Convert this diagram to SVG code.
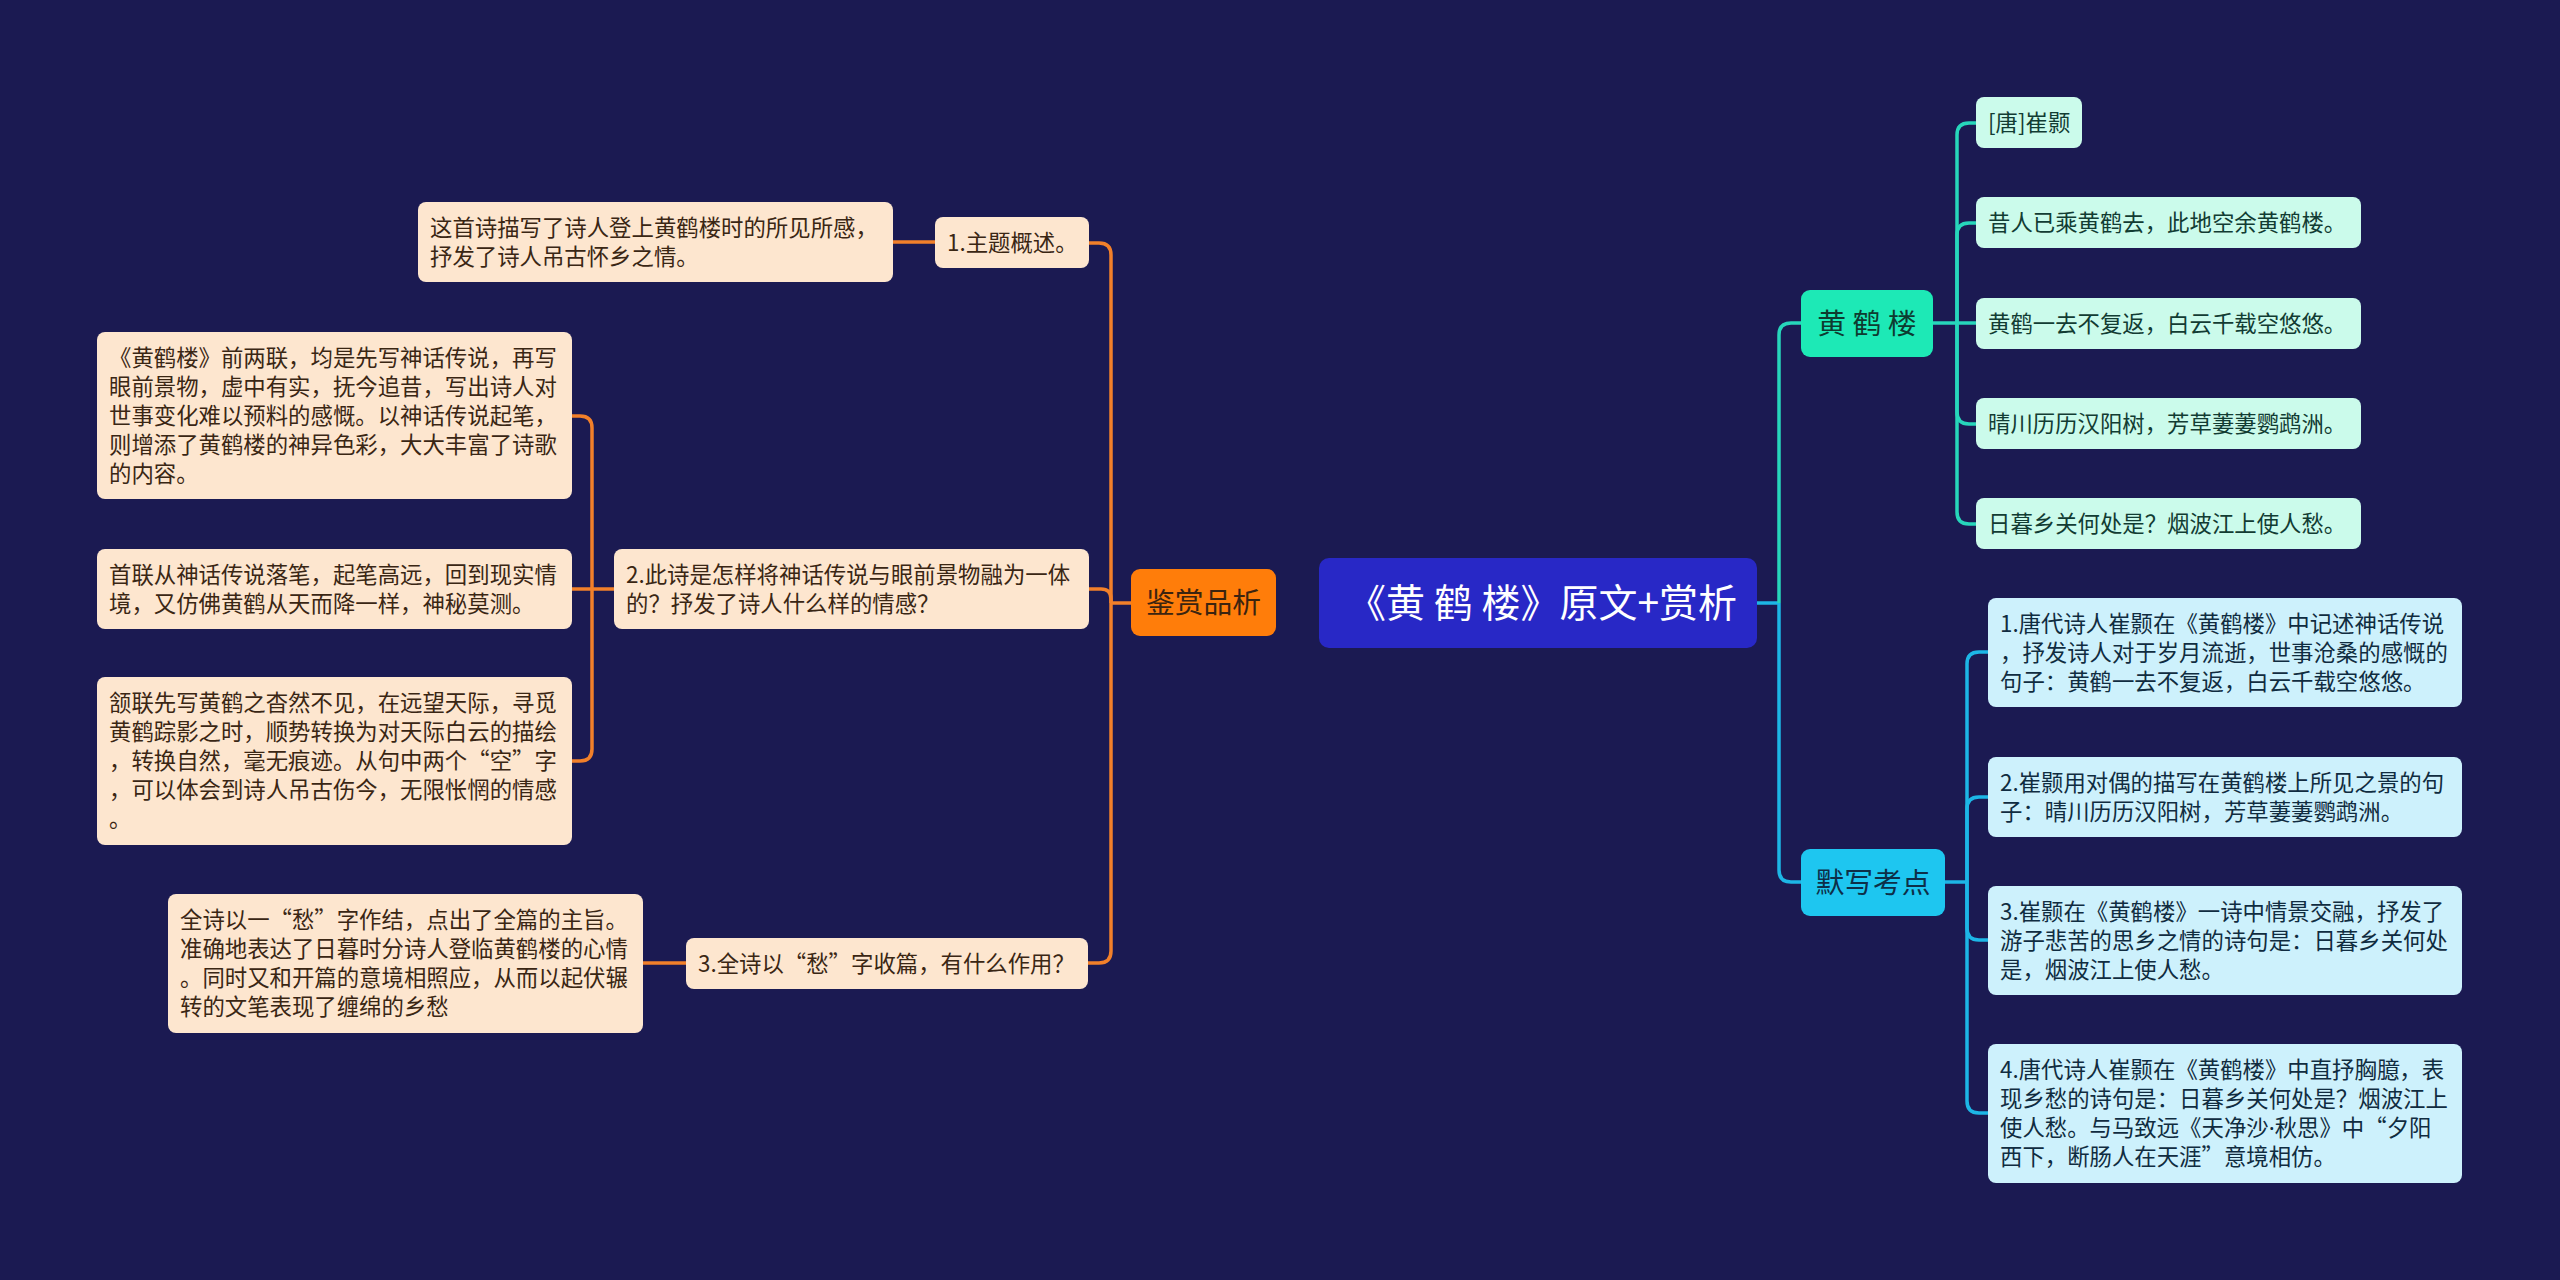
<svg xmlns="http://www.w3.org/2000/svg" width="2560" height="1280" viewBox="0 0 2560 1280">
<style>
text{font-family:"Noto Sans CJK SC","Noto Sans",sans-serif;}
.t{font-size:22.4px;}
.lf rect{fill:#fde6cf;}
.lf text{fill:#3a2614;}
.mt rect{fill:#cbfbeb;}
.mt text{fill:#123c33;}
.cy rect{fill:#cdf1fc;}
.cy text{fill:#102c40;}
.o{fill:none;stroke:#f2802a;stroke-width:3.5;}
.g{fill:none;stroke:#27d6bb;stroke-width:3.5;}
.b{fill:none;stroke:#1db6e6;stroke-width:3.5;}
</style>
<rect width="2560" height="1280" fill="#1b1a52"/>
<g id="connectors">
<path class="o" d="M1131,603 H1111"/>
<path class="o" d="M1111,603 V255 Q1111,243 1099,243 H1089"/>
<path class="o" d="M1111,603 V951 Q1111,963 1099,963 H1088"/>
<path class="o" d="M1089,589 H1101 Q1111,589 1111,599 V603"/>
<path class="o" d="M893,242 H935"/>
<path class="o" d="M643,963 H686"/>
<path class="o" d="M614,589 H572"/>
<path class="o" d="M592,589 V428 Q592,416 580,416 H572"/>
<path class="o" d="M592,589 V749 Q592,761 580,761 H572"/>
<path class="b" d="M1757,603 H1779"/>
<path class="g" d="M1779,603 V335 Q1779,323 1791,323 H1801"/>
<path class="b" d="M1779,603 V870 Q1779,882 1791,882 H1801"/>
<path class="g" d="M1933,323 H1976"/>
<path class="g" d="M1957,323 V135 Q1957,123 1969,123 H1976"/>
<path class="g" d="M1957,323 V235 Q1957,223 1969,223 H1976"/>
<path class="g" d="M1957,323 V412 Q1957,424 1969,424 H1976"/>
<path class="g" d="M1957,323 V512 Q1957,524 1969,524 H1976"/>
<path class="b" d="M1945,882 H1967"/>
<path class="b" d="M1967,882 V664 Q1967,652 1979,652 H1988"/>
<path class="b" d="M1967,882 V809 Q1967,797 1979,797 H1988"/>
<path class="b" d="M1967,882 V928 Q1967,940 1979,940 H1988"/>
<path class="b" d="M1967,882 V1101 Q1967,1113 1979,1113 H1988"/>
</g>
<g id="root">
<rect x="1319" y="558" width="438" height="90" rx="10" fill="#2828c6"/>
<text x="1542" y="617" font-size="39" fill="#ffffff" text-anchor="middle">《黄 鹤 楼》原文+赏析</text>
</g>
<g id="jianshang">
<rect x="1131" y="569" width="145" height="67" rx="9" fill="#ff7d0a"/>
<text x="1203.5" y="613" font-size="28.8" fill="#3b2410" text-anchor="middle">鉴赏品析</text>
</g>
<g id="q1" class="lf">
<rect x="935" y="217" width="154" height="51" rx="8"/>
<text class="t" x="947" y="251">1.主题概述。</text>
</g>
<g id="q2" class="lf">
<rect x="614" y="549" width="475" height="80" rx="8"/>
<text class="t" x="626" y="583">2.此诗是怎样将神话传说与眼前景物融为一体</text>
<text class="t" x="626" y="612">的？抒发了诗人什么样的情感？</text>
</g>
<g id="q3" class="lf">
<rect x="686" y="938" width="402" height="51" rx="8"/>
<text class="t" x="698" y="972">3.全诗以“愁”字收篇，有什么作用？</text>
</g>
<g id="a1" class="lf">
<rect x="418" y="202" width="475" height="80" rx="8"/>
<text class="t" x="430" y="236">这首诗描写了诗人登上黄鹤楼时的所见所感，</text>
<text class="t" x="430" y="265">抒发了诗人吊古怀乡之情。</text>
</g>
<g id="a2a" class="lf">
<rect x="97" y="332" width="475" height="167" rx="8"/>
<text class="t" x="109" y="366">《黄鹤楼》前两联，均是先写神话传说，再写</text>
<text class="t" x="109" y="395">眼前景物，虚中有实，抚今追昔，写出诗人对</text>
<text class="t" x="109" y="424">世事变化难以预料的感慨。以神话传说起笔，</text>
<text class="t" x="109" y="453">则增添了黄鹤楼的神异色彩，大大丰富了诗歌</text>
<text class="t" x="109" y="482">的内容。</text>
</g>
<g id="a2b" class="lf">
<rect x="97" y="549" width="475" height="80" rx="8"/>
<text class="t" x="109" y="583">首联从神话传说落笔，起笔高远，回到现实情</text>
<text class="t" x="109" y="612">境，又仿佛黄鹤从天而降一样，神秘莫测。</text>
</g>
<g id="a2c" class="lf">
<rect x="97" y="677" width="475" height="168" rx="8"/>
<text class="t" x="109" y="711">颔联先写黄鹤之杳然不见，在远望天际，寻觅</text>
<text class="t" x="109" y="740">黄鹤踪影之时，顺势转换为对天际白云的描绘</text>
<text class="t" x="109" y="769">，转换自然，毫无痕迹。从句中两个“空”字</text>
<text class="t" x="109" y="798">，可以体会到诗人吊古伤今，无限怅惘的情感</text>
<text class="t" x="109" y="827">。</text>
</g>
<g id="a3" class="lf">
<rect x="168" y="894" width="475" height="139" rx="8"/>
<text class="t" x="180" y="928">全诗以一“愁”字作结，点出了全篇的主旨。</text>
<text class="t" x="180" y="957">准确地表达了日暮时分诗人登临黄鹤楼的心情</text>
<text class="t" x="180" y="986">。同时又和开篇的意境相照应，从而以起伏辗</text>
<text class="t" x="180" y="1015">转的文笔表现了缠绵的乡愁</text>
</g>
<g id="hhl">
<rect x="1801" y="290" width="132" height="67" rx="9" fill="#1de9b6"/>
<text x="1867" y="334" font-size="28.8" fill="#0e3b30" text-anchor="middle">黄 鹤 楼</text>
</g>
<g id="p0" class="mt">
<rect x="1976" y="97" width="106" height="51" rx="8"/>
<text class="t" x="1988" y="131">[唐]崔颢</text>
</g>
<g id="p1" class="mt">
<rect x="1976" y="197" width="385" height="51" rx="8"/>
<text class="t" x="1988" y="231">昔人已乘黄鹤去，此地空余黄鹤楼。</text>
</g>
<g id="p2" class="mt">
<rect x="1976" y="298" width="385" height="51" rx="8"/>
<text class="t" x="1988" y="332">黄鹤一去不复返，白云千载空悠悠。</text>
</g>
<g id="p3" class="mt">
<rect x="1976" y="398" width="385" height="51" rx="8"/>
<text class="t" x="1988" y="432">晴川历历汉阳树，芳草萋萋鹦鹉洲。</text>
</g>
<g id="p4" class="mt">
<rect x="1976" y="498" width="385" height="51" rx="8"/>
<text class="t" x="1988" y="532">日暮乡关何处是？烟波江上使人愁。</text>
</g>
<g id="mx">
<rect x="1801" y="849" width="144" height="67" rx="9" fill="#1ec6f0"/>
<text x="1873" y="893" font-size="28.8" fill="#0d2f48" text-anchor="middle">默写考点</text>
</g>
<g id="m1" class="cy">
<rect x="1988" y="598" width="474" height="109" rx="8"/>
<text class="t" x="2000" y="632">1.唐代诗人崔颢在《黄鹤楼》中记述神话传说</text>
<text class="t" x="2000" y="661">，抒发诗人对于岁月流逝，世事沧桑的感慨的</text>
<text class="t" x="2000" y="690">句子：黄鹤一去不复返，白云千载空悠悠。</text>
</g>
<g id="m2" class="cy">
<rect x="1988" y="757" width="474" height="80" rx="8"/>
<text class="t" x="2000" y="791">2.崔颢用对偶的描写在黄鹤楼上所见之景的句</text>
<text class="t" x="2000" y="820">子：晴川历历汉阳树，芳草萋萋鹦鹉洲。</text>
</g>
<g id="m3" class="cy">
<rect x="1988" y="886" width="474" height="109" rx="8"/>
<text class="t" x="2000" y="920">3.崔颢在《黄鹤楼》一诗中情景交融，抒发了</text>
<text class="t" x="2000" y="949">游子悲苦的思乡之情的诗句是：日暮乡关何处</text>
<text class="t" x="2000" y="978">是，烟波江上使人愁。</text>
</g>
<g id="m4" class="cy">
<rect x="1988" y="1044" width="474" height="139" rx="8"/>
<text class="t" x="2000" y="1078">4.唐代诗人崔颢在《黄鹤楼》中直抒胸臆，表</text>
<text class="t" x="2000" y="1107">现乡愁的诗句是：日暮乡关何处是？烟波江上</text>
<text class="t" x="2000" y="1136">使人愁。与马致远《天净沙<tspan font-family="Noto Sans, sans-serif">·</tspan>秋思》中“夕阳</text>
<text class="t" x="2000" y="1165">西下，断肠人在天涯”意境相仿。</text>
</g>
</svg>
